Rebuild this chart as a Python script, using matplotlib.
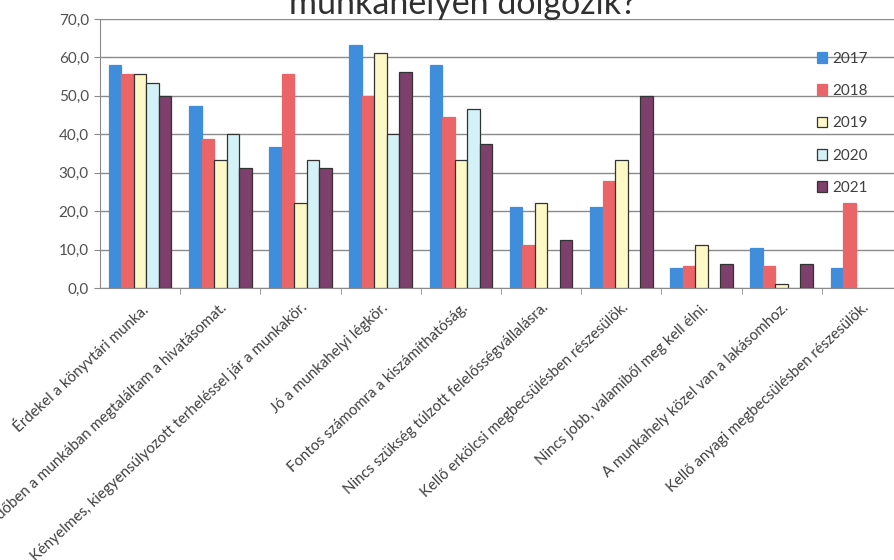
import numpy as np
import matplotlib.pyplot as plt

plt.rcParams['font.family'] = ['Lato', 'DejaVu Sans']

# survey answers (percent of respondents per year)
categories = [
    'Érdekel a könyvtári munka.',
    'Időben a munkában megtaláltam a hivatásomat.',
    'Kényelmes, kiegyensúlyozott terheléssel jár a munkakör.',
    'Jó a munkahelyi légkör.',
    'Fontos számomra a kiszámíthatóság.',
    'Nincs szükség túlzott felelősségvállalásra.',
    'Kellő erkölcsi megbecsülésben részesülök.',
    'Nincs jobb, valamiből meg kell élni.',
    'A munkahely közel van a lakásomhoz.',
    'Kellő anyagi megbecsülésben részesülök.',
]
years = ['2017', '2018', '2019', '2020', '2021']
v2017 = [57.9, 47.4, 36.8, 63.2, 57.9, 21.1, 21.1, 5.3, 10.5, 5.3]
v2018 = [55.6, 38.9, 55.6, 50.0, 44.4, 11.1, 27.8, 5.6, 5.6, 22.2]
v2019 = [55.6, 33.3, 22.2, 61.1, 33.3, 22.2, 33.3, 11.1, 1.1, np.nan]
v2020 = [53.3, 40.0, 33.3, 40.0, 46.7, np.nan, np.nan, np.nan, np.nan, np.nan]
v2021 = [50.0, 31.3, 31.3, 56.3, 37.5, 12.5, 50.0, 6.3, 6.3, np.nan]
series = [v2017, v2018, v2019, v2020, v2021]

colors = ['#3f8ddb', '#ea6468', '#fcf9c6', '#d3f1f6', '#7d3f6c']
edges = ['#3f8ddb', '#ea6468', '#333333', '#333333', '#333333']

fig = plt.figure(figsize=(8.94, 5.6), dpi=100)
ax = fig.add_axes([100/894, 1 - 288/560, 802/894, 269/560])

x = np.arange(len(categories))
w = 0.78 / len(years)
for i, (yr, vals) in enumerate(zip(years, series)):
    ax.bar(x + (i - 2) * w, vals, w, color=colors[i], edgecolor=edges[i],
           linewidth=0.9, label=yr, zorder=3)

ax.set_xlim(-0.5, len(categories) - 0.5)
ax.set_ylim(0, 70)
ax.set_yticks(np.arange(0, 71, 10))
ax.set_yticklabels(['{:.1f}'.format(v).replace('.', ',') for v in range(0, 71, 10)])
ax.yaxis.grid(True, color='#8a8a8a', linewidth=1.0, zorder=0)

ax.set_xticks(x)
ax.set_xticklabels(categories, rotation=43, ha='right', va='top',
                   rotation_mode='anchor', fontsize=10.8, color='#404040')
ax.tick_params(axis='x', length=0, pad=9)
ax.set_xticks(np.arange(0.5, len(categories) - 0.5, 1), minor=True)
ax.tick_params(axis='x', which='minor', length=4, color='#8a8a8a')
ax.tick_params(axis='y', length=4, color='#8a8a8a', labelsize=11,
               labelcolor='#505050', pad=4)

for s in ['top', 'right']:
    ax.spines[s].set_visible(False)
for s in ['left', 'bottom']:
    ax.spines[s].set_color('#8a8a8a')

ax.legend(loc='upper left', bbox_to_anchor=(803/894, 1 - 38/560),
          bbox_transform=fig.transFigure, frameon=False, fontsize=11,
          handlelength=0.7, handleheight=0.7, handletextpad=0.3,
          labelspacing=1.2, labelcolor='#404040')

fig.text(463/894, 1 - 14/560, 'munkahelyen dolgozik?', ha='center',
         va='baseline', fontsize=24.5, color='#303030')

fig.savefig('out.png', dpi=100)
